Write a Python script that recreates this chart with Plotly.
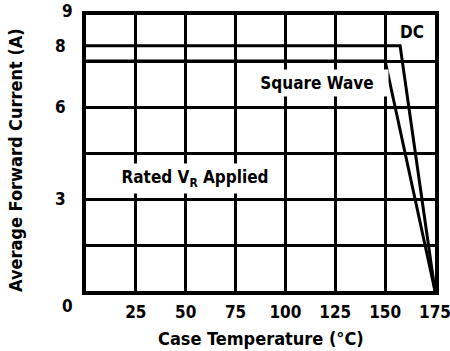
import plotly.graph_objects as go

# Data
dc_temp = [0, 157.5, 175]
dc_current = [8, 8, 0]
sq_temp = [0, 150, 175]
sq_current = [7.5, 7.5, 0]
x_ticks = [25, 50, 75, 100, 125, 150, 175]
x_ticklabels = ["25", "50", "75", "100", "125", "150", "175"]
y_ticks = [3, 6, 8]
y_ticklabels = ["3", "6", "8"]
y_grid = [1.5, 3, 4.5, 6, 7.5]

FONT = "DejaVu Sans Condensed, Liberation Sans Narrow, sans-serif"
FS = 17

fig = go.Figure()
fig.add_trace(go.Scatter(x=dc_temp, y=dc_current, mode="lines",
                         line=dict(color="black", width=3), showlegend=False))
fig.add_trace(go.Scatter(x=sq_temp, y=sq_current, mode="lines",
                         line=dict(color="black", width=3), showlegend=False))

fig.update_layout(
    width=450, height=351,
    margin=dict(l=86, r=15, t=15, b=60, autoexpand=False),
    plot_bgcolor="white", paper_bgcolor="white",
    font=dict(family=FONT, size=FS, color="black", weight="bold"),
    showlegend=False,
)
fig.update_xaxes(
    range=[0, 175], tickmode="array", tickvals=x_ticks, ticktext=x_ticklabels,
    showgrid=True, gridcolor="black", gridwidth=3,
    showline=True, linecolor="black", linewidth=4, mirror=True,
    ticks="", ticklabelstandoff=3, zeroline=False, automargin=False,
    ticklabeloverflow="allow",
    tickfont=dict(family=FONT, size=FS, weight="bold"),
)
fig.update_yaxes(
    range=[0, 9], tickmode="array", tickvals=y_ticks, ticktext=y_ticklabels,
    showgrid=False, zeroline=False, automargin=False,
    minor=dict(tickmode="array", tickvals=y_grid, showgrid=True,
               gridcolor="black", gridwidth=3, ticks=""),
    showline=True, linecolor="black", linewidth=4, mirror=True,
    ticks="", ticklabelstandoff=13, ticklabeloverflow="allow",
    tickfont=dict(family=FONT, size=FS, weight="bold"),
)

annots = [
    dict(x=0, y=0, xref="paper", yref="y", text="0", showarrow=False,
         xanchor="center", yanchor="middle", xshift=-19, yshift=-15),
    dict(x=0, y=9, xref="paper", yref="y", text="9", showarrow=False,
         xanchor="center", yanchor="middle", xshift=-19, yshift=4),
    dict(x=163.5, y=8.44, xref="x", yref="y", text="DC", showarrow=False,
         xanchor="center", yanchor="middle"),
    dict(x=115.7, y=6.78, xref="x", yref="y", text="Square Wave", showarrow=False,
         xanchor="center", yanchor="middle",
         bgcolor="white", borderpad=3, width=136),
    dict(x=54.7, y=3.68, xref="x", yref="y", text="Rated V<sub>R</sub> Applied",
         showarrow=False, xanchor="center", yanchor="middle",
         bgcolor="white", borderpad=3, width=154),
    dict(x=0.5, y=0, xref="paper", yref="paper", text="Case Temperature (°C)",
         showarrow=False, xanchor="center", yanchor="middle", yshift=-47,
         font=dict(size=18)),
    dict(x=0, y=0.4746, xref="paper", yref="paper", text="Average Forward Current (A)",
         showarrow=False, xanchor="center", yanchor="middle", xshift=-71,
         textangle=-90, font=dict(size=18)),
]
fig.update_layout(annotations=annots)

fig.write_html("out.html", config={"displayModeBar": False},
               post_script="document.body.style.margin='0';")
